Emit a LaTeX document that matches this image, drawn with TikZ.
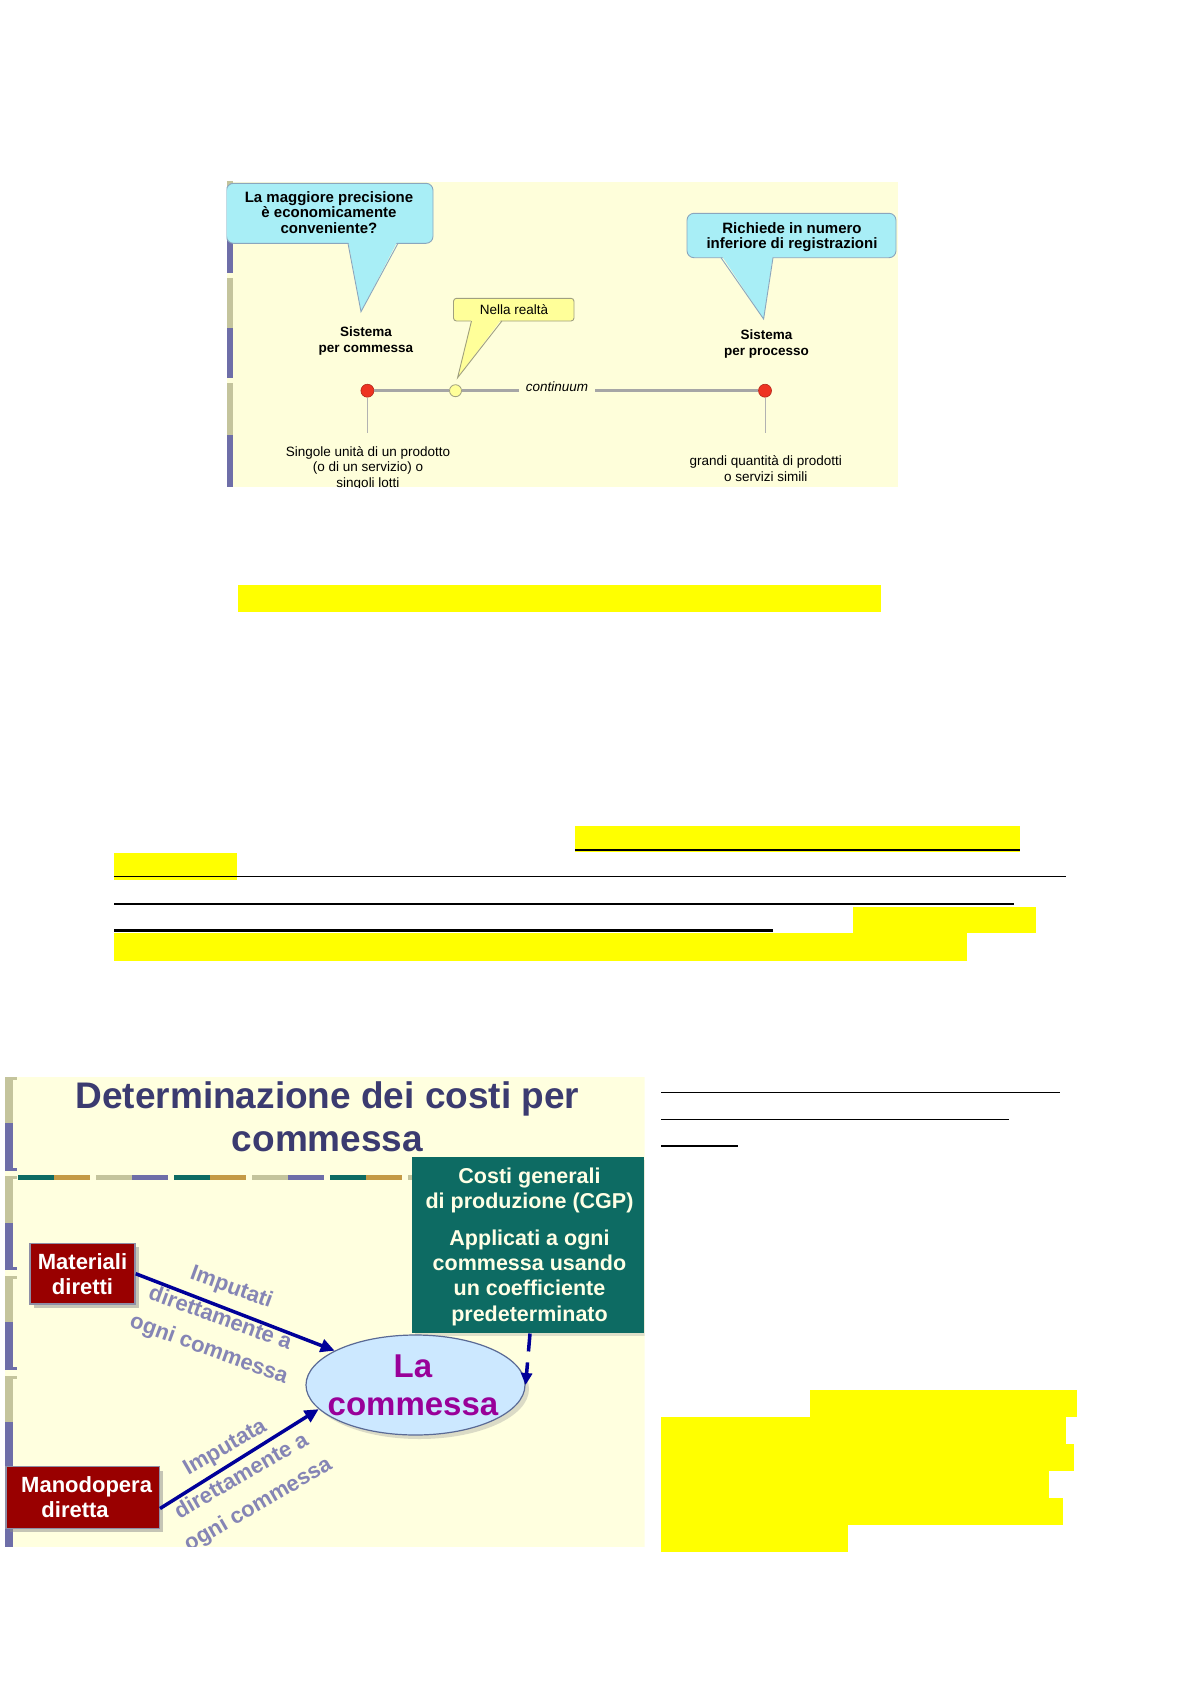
\documentclass[tikz,border=0pt]{standalone}
\usepackage{fontspec}
\setmainfont{Liberation Sans}
\usetikzlibrary{arrows.meta,shapes.geometric,shadows}
\newcommand\setfs[2]{\fontsize{#1}{#2}\selectfont}
\definecolor{topbg}{HTML}{FEFEDA}
\definecolor{botbg}{HTML}{FFFFDF}
\definecolor{cyanC}{HTML}{A8EEF6}
\definecolor{cyanB}{HTML}{8AA6BE}
\definecolor{yelC}{HTML}{FFFF99}
\definecolor{yelB}{HTML}{A0A080}
\definecolor{dotred}{HTML}{EE3322}
\definecolor{lineg}{HTML}{A6A6A6}
\definecolor{stripP}{HTML}{6E6EA8}
\definecolor{stripK}{HTML}{C4C49C}
\definecolor{tealbox}{HTML}{0D6B63}
\definecolor{goldc}{HTML}{C49A45}
\definecolor{navyc}{HTML}{3B3B70}
\definecolor{darkredc}{HTML}{990000}
\definecolor{boxb}{HTML}{8E8EA6}
\definecolor{arrowblue}{HTML}{000099}
\definecolor{lblgray}{HTML}{8585B5}
\definecolor{ellfill}{HTML}{CCE8FF}
\definecolor{ellbord}{HTML}{5A6A95}
\definecolor{magc}{HTML}{990099}
\definecolor{creamc}{HTML}{FFFFE5}
\definecolor{hl}{HTML}{FFFF00}
\begin{document}
\begin{tikzpicture}[x=1pt,y=-1pt,
  callbox/.style={fill=cyanC, draw=cyanB, line width=0.9pt, rounded corners=7pt},
  callside/.style={draw=cyanB, line width=0.9pt},
  ybox/.style={fill=yelC, draw=yelB, line width=0.9pt, rounded corners=3pt},
  yside/.style={draw=yelB, line width=0.9pt},
  calltext/.style={font=\setfs{15}{15.5}\bfseries, align=center, anchor=base, inner sep=0pt},
  smalltext/.style={font=\setfs{13.5}{15.2}, align=center, anchor=base, inner sep=0pt},
  smallbold/.style={font=\setfs{13.5}{16}\bfseries, align=center, anchor=base, inner sep=0pt},
  reddot/.style={circle, fill=dotred, draw=dotred!75!black, line width=0.6pt, minimum size=13pt, inner sep=0pt},
  yeldot/.style={circle, fill=yelC, draw=yelB, line width=0.8pt, minimum size=12pt, inner sep=0pt},
  gline/.style={draw=lineg, line width=3pt},
  tickline/.style={draw=black!30, line width=0.7pt},
  rule/.style={draw=black, line width=1.3pt},
  thickrule/.style={draw=black, line width=2.5pt},
  redbox/.style={draw=boxb, line width=1.5pt, fill=darkredc, text=white, font=\setfs{22}{25}\bfseries, align=center, inner sep=0pt,
     drop shadow={shadow xshift=4pt, shadow yshift=-4pt, fill=black!45, opacity=0.5}},
  lbl/.style={text=lblgray, font=\setfs{22}{33}\bfseries, align=center, inner sep=0pt},
  cgptext/.style={text=creamc, font=\setfs{21.5}{25.3}\bfseries, align=center, anchor=base, inner sep=0pt},
  barrow/.style={draw=arrowblue, line width=3.5pt, -{Triangle[length=14pt,width=13pt]}},
  darrow/.style={draw=arrowblue, line width=3.5pt, dash pattern=on 18pt off 11pt, -{Triangle[length=12pt,width=11pt]}}
]
\useasboundingbox (0,0) rectangle (1191,1684);
\fill[white] (0,0) rectangle (1191,1684);

%================ TOP SLIDE =================
\begin{scope}
\clip (226.5,181.7) rectangle (898,487);
\fill[topbg] (226.5,181.7) rectangle (898,487);
% left strips
\fill[stripK] (226.5,173.3) rectangle (233,223.3);
\fill[stripP] (226.5,223.3) rectangle (233,273.3);
\fill[stripK] (226.5,278.3) rectangle (233,328.3);
\fill[stripP] (226.5,328.3) rectangle (233,378.3);
\fill[stripK] (226.5,383.3) rectangle (233,435);
\fill[stripP] (226.5,435) rectangle (233,487);

% callout 1
\draw[callbox] (226.5,183.3) rectangle (433,243.3);
\fill[cyanC] (348,240.3) -- (361,311.7) -- (398,240.3) -- cycle;
\draw[callside] (348,243.3) -- (361,311.7) -- (398,243.3);
\node[calltext] (c1) at (329,233) {La maggiore precisione\\è economicamente\\conveniente?};

% callout 2
\draw[callbox] (687,213.3) rectangle (896,257.7);
\fill[cyanC] (721,254.7) -- (763.6,319) -- (773,254.7) -- cycle;
\draw[callside] (721,257.7) -- (763.6,319) -- (773,257.7);
\node[calltext] (c2) at (792,248.5) {Richiede in numero\\inferiore di registrazioni};

% callout 3
\draw[ybox] (453.5,298.3) rectangle (574,321);
\fill[yelC] (471.5,318.5) -- (457.6,377.7) -- (501.9,318.5) -- cycle;
\draw[yside] (471.5,321) -- (457.6,377.7) -- (501.9,321);
\node[smalltext] (c3) at (514,314.5) {Nella realtà};

% labels
\node[smallbold] (sc) at (366,352) {Sistema\\per commessa};
\node[smallbold] (sp) at (766.5,355) {Sistema\\per processo};
\node[smalltext, font=\setfs{13.5}{15}\itshape, inner xsep=7pt] (cont) at (557,391) {continuum};

% continuum line
\node[reddot] (d1) at (367.4,390.7) {};
\node[yeldot] (y1) at (455.5,390.7) {};
\node[reddot] (d2) at (765,390.7) {};
\draw[gline] (d1) -- (y1);
\draw[gline] (y1) -- (y1 -| cont.west);
\draw[gline] (d2 -| cont.east) -- (d2);
\draw[tickline] (d1.south) -- ++(0,35);
\draw[tickline] (d2.south) -- ++(0,35);

\node[smalltext] (bl) at (368,487) {Singole unità di un prodotto\\(o di un servizio) o\\singoli lotti};
\node[smalltext, font=\setfs{13.5}{15.5}] (br) at (765.7,481) {grandi quantità di prodotti\\o servizi simili};
\end{scope}

%================ MIDDLE HIGHLIGHTS =================
\fill[hl] (238,585) rectangle (881,611.7);
\fill[hl] (575,826) rectangle (1020,851.7);
\fill[hl] (114,852.7) rectangle (237,880);
\fill[hl] (852.5,906.7) rectangle (1036,933.3);
\fill[hl] (114,933.3) rectangle (967,960.7);
\draw[rule] (575,850) -- (1020,850);
\draw[rule] (114,876.7) -- (1066,876.7);
\draw[rule] (114,904) -- (1014,904);
\draw[thickrule] (114,930.7) -- (773,930.7);

%================ RIGHT COLUMN =================
\draw[rule] (661,1092.3) -- (1060,1092.3);
\draw[rule] (661,1119.3) -- (1009,1119.3);
\draw[thickrule] (661,1146) -- (737.7,1146);
\fill[hl] (810,1390) rectangle (1077,1416.9);
\fill[hl] (661,1416.7) rectangle (1065.7,1444.2);
\fill[hl] (661,1444) rectangle (1074,1471.2);
\fill[hl] (661,1471) rectangle (1049,1498.5);
\fill[hl] (661,1498.3) rectangle (1063,1525.2);
\fill[hl] (661,1525) rectangle (848,1551.7);

%================ BOTTOM SLIDE =================
\begin{scope}
\clip (5,1076.7) rectangle (644.7,1546.7);
\fill[botbg] (5,1076.7) rectangle (644.7,1546.7);
% left strips
\foreach \i in {0,...,4} {
  \pgfmathsetmacro\ya{1076.7+99.6*\i}
  \fill[stripK] (5,\ya) rectangle (13,\ya+46.5);
  \fill[stripK] (5,\ya) rectangle (16.7,\ya+3);
  \fill[stripP] (5,\ya+46.5) rectangle (13,\ya+94);
  \fill[stripP] (5,\ya+91) rectangle (16.7,\ya+94);
}
% dashed separator
\fill[tealbox] (18.3,1174.8) rectangle (54.3,1179.8);
\fill[goldc]   (54.3,1174.8) rectangle (90.3,1179.8);
\fill[stripK]  (96.2,1174.8) rectangle (132.2,1179.8);
\fill[stripP]  (132.2,1174.8) rectangle (168.2,1179.8);
\fill[tealbox] (174,1174.8) rectangle (210,1179.8);
\fill[goldc]   (210,1174.8) rectangle (246,1179.8);
\fill[stripK]  (251.9,1174.8) rectangle (287.9,1179.8);
\fill[stripP]  (287.9,1174.8) rectangle (323.9,1179.8);
\fill[tealbox] (329.7,1174.8) rectangle (365.7,1179.8);
\fill[goldc]   (365.7,1174.8) rectangle (401.7,1179.8);
\fill[stripK]  (407.6,1174.8) rectangle (443.6,1179.8);

% title
\node[text=navyc, font=\setfs{37}{43}\bfseries, align=center, anchor=base, inner sep=0pt] (title) at (327.5,1151) {Determinazione dei costi per\\commessa};

% rotated labels
\node[lbl, rotate=-20] (lab1) at (220,1319) {Imputati\\direttamente a\\ogni commessa};
\node[lbl, rotate=30] (lab2) at (242,1477) {Imputata\\direttamente a\\ogni commessa};

% CGP box
\node[fill=tealbox, minimum width=232.6pt, minimum height=176pt, inner sep=0pt,
      drop shadow={shadow xshift=3pt, shadow yshift=-3pt, fill=black!40, opacity=0.3}] (cgp) at (528,1245.3) {};
\node[cgptext] (cgp1) at (529.5,1208.6) {Costi generali\\di produzione (CGP)};
\node[cgptext] (cgp2) at (529.5,1321) {Applicati a ogni\\commessa usando\\un coefficiente\\predeterminato};

% red boxes
\node[redbox, minimum width=105pt, minimum height=60.7pt] (mat) at (82.5,1273.7) {Materiali\\diretti};
\node[redbox, minimum width=153.3pt, minimum height=61.6pt] (mano) at (82.6,1497.5) {\hspace*{8pt}Manodopera\\diretta\hspace*{15pt}};

% ellipse
\node[ellipse, minimum width=219pt, minimum height=100pt, inner sep=0pt, fill=ellfill, draw=ellbord, line width=1.2pt,
      drop shadow={shadow xshift=4pt, shadow yshift=-4pt, fill=black!40, opacity=0.35}] (comm) at (415.5,1385) {};
\node[text=magc, font=\setfs{33}{37.7}\bfseries, align=center, anchor=base, inner sep=0pt] (commtext) at (413,1415) {La\\commessa};

% arrows
\draw[barrow] (mat.east) -- (comm.157);
\draw[barrow] ([yshift=-11pt]mano.east) -- (comm.194);
\draw[darrow] ([xshift=2pt]cgp.south) -- (comm.east);
\end{scope}
\end{tikzpicture}
\end{document}
